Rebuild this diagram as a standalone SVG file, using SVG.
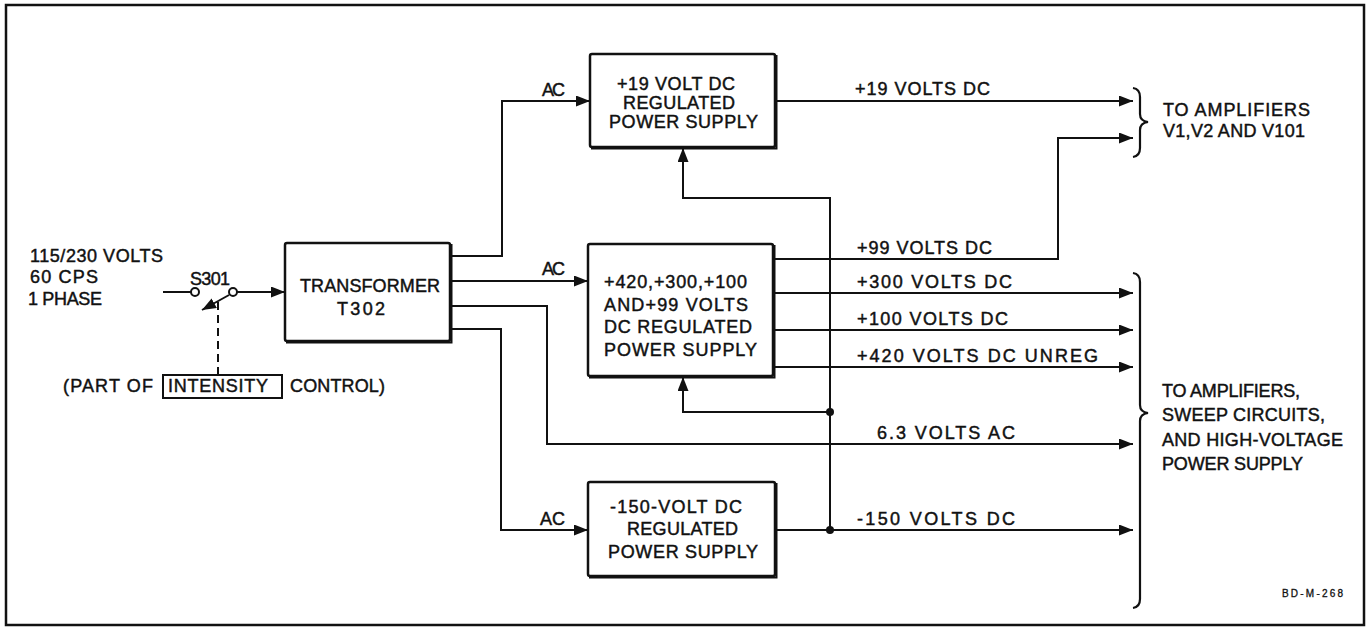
<svg xmlns="http://www.w3.org/2000/svg" width="1370" height="627" viewBox="0 0 1370 627">
<defs>
<style>
text{font-family:"Liberation Sans",Arial,sans-serif;font-size:18px;fill:#111;stroke:#111;stroke-width:0.45}
.box{fill:#fff;stroke:#111;stroke-width:2.5}
.sh{fill:none;stroke:#111;stroke-width:2}
.w{fill:none;stroke:#111;stroke-width:2}
.dash{fill:none;stroke:#111;stroke-width:2;stroke-dasharray:8 5}
.dot{fill:#111}
.br{fill:none;stroke:#111;stroke-width:2.2}
</style>
<marker id="ah" viewBox="0 0 14 11" refX="14" refY="5.5" markerWidth="14" markerHeight="11" markerUnits="userSpaceOnUse" orient="auto">
<path d="M0,0 L14,5.5 L0,11 Z" fill="#111"/>
</marker>
</defs>
<rect width="1370" height="627" fill="#fff"/>
<rect x="6" y="5" width="1358" height="620" fill="none" stroke="#111" stroke-width="2.5"/>

<g id="input">
<text x="30" y="262" textLength="133" lengthAdjust="spacing">115/230 VOLTS</text>
<text x="30" y="283" textLength="68" lengthAdjust="spacing">60 CPS</text>
<text x="28" y="305" textLength="74" lengthAdjust="spacing">1 PHASE</text>
</g>

<g id="switch">
<text x="190" y="285" textLength="40" lengthAdjust="spacing">S301</text>
<circle cx="195" cy="292" r="4" fill="#fff" stroke="#111" stroke-width="2"/>
<circle cx="233" cy="292" r="4" fill="#fff" stroke="#111" stroke-width="2"/>
<line x1="229" y1="295" x2="202" y2="310" class="w" marker-end="url(#ah)"/>
</g>

<g id="intensity">
<text x="63" y="392" textLength="90" lengthAdjust="spacing">(PART OF</text>
<rect x="163" y="375" width="119" height="23" fill="none" stroke="#111" stroke-width="2"/>
<text x="168" y="392" textLength="100" lengthAdjust="spacing">INTENSITY</text>
<text x="290" y="392" textLength="95" lengthAdjust="spacing">CONTROL)</text>
</g>

<g id="transformer">
<rect x="285" y="243" width="165" height="98" rx="2" class="box"/>
<path d="M286,342.5 H451.5 V244" class="sh"/>
<text x="300" y="292" textLength="140" lengthAdjust="spacing">TRANSFORMER</text>
<text x="337" y="315" textLength="48" lengthAdjust="spacing">T302</text>
</g>

<g id="ps19">
<rect x="590" y="54" width="185" height="93" rx="2" class="box"/>
<path d="M591,148.5 H776.5 V55" class="sh"/>
<text x="617" y="90" textLength="118" lengthAdjust="spacing">+19 VOLT DC</text>
<text x="623" y="109" textLength="112" lengthAdjust="spacing">REGULATED</text>
<text x="609" y="128" textLength="149" lengthAdjust="spacing">POWER  SUPPLY</text>
</g>

<g id="ps420">
<rect x="588" y="244" width="185" height="132" rx="2" class="box"/>
<path d="M589,377.5 H774.5 V245" class="sh"/>
<text x="604" y="288" textLength="143" lengthAdjust="spacing">+420,+300,+100</text>
<text x="604" y="311" textLength="144" lengthAdjust="spacing">AND+99 VOLTS</text>
<text x="604" y="333" textLength="148" lengthAdjust="spacing">DC REGULATED</text>
<text x="604" y="356" textLength="153" lengthAdjust="spacing">POWER  SUPPLY</text>
</g>

<g id="ps150">
<rect x="588" y="482" width="187" height="94" rx="2" class="box"/>
<path d="M589,577.5 H776.5 V483" class="sh"/>
<text x="610" y="513" textLength="132" lengthAdjust="spacing">-150-VOLT DC</text>
<text x="627" y="535" textLength="111" lengthAdjust="spacing">REGULATED</text>
<text x="608" y="558" textLength="150" lengthAdjust="spacing">POWER  SUPPLY</text>
</g>

<g id="connectors">
<line x1="163" y1="292" x2="191" y2="292" class="w"/>
<line x1="237" y1="292" x2="285" y2="292" class="w" marker-end="url(#ah)"/>
<line x1="218" y1="302" x2="218" y2="375" class="dash"/>
<polyline points="451,256 502,256 502,101 590,101" class="w" marker-end="url(#ah)"/>
<line x1="451" y1="281" x2="588" y2="281" class="w" marker-end="url(#ah)"/>
<polyline points="451,306 547,306 547,444 1133,444" class="w" marker-end="url(#ah)"/>
<polyline points="451,329 501,329 501,530 588,530" class="w" marker-end="url(#ah)"/>
<line x1="776" y1="101" x2="1133" y2="101" class="w" marker-end="url(#ah)"/>
<polyline points="774,259 1058,259 1058,138 1133,138" class="w" marker-end="url(#ah)"/>
<line x1="774" y1="293" x2="1133" y2="293" class="w" marker-end="url(#ah)"/>
<line x1="774" y1="330" x2="1133" y2="330" class="w" marker-end="url(#ah)"/>
<line x1="774" y1="367" x2="1133" y2="367" class="w" marker-end="url(#ah)"/>
<line x1="776" y1="530" x2="1133" y2="530" class="w" marker-end="url(#ah)"/>
<polyline points="830,530 830,198 683,198 683,148" class="w" marker-end="url(#ah)"/>
<polyline points="830,412 683,412 683,377" class="w" marker-end="url(#ah)"/>
<circle cx="830" cy="412" r="4" class="dot"/>
<circle cx="830" cy="530" r="4" class="dot"/>
<text x="542" y="96" textLength="23" lengthAdjust="spacing">AC</text>
<text x="542" y="275" textLength="23" lengthAdjust="spacing">AC</text>
<text x="540" y="525" textLength="25" lengthAdjust="spacing">AC</text>
<text x="855" y="95" textLength="135" lengthAdjust="spacing">+19 VOLTS DC</text>
<text x="857" y="254" textLength="135" lengthAdjust="spacing">+99 VOLTS DC</text>
<text x="857" y="288" textLength="155" lengthAdjust="spacing">+300 VOLTS  DC</text>
<text x="857" y="325" textLength="151" lengthAdjust="spacing">+100 VOLTS  DC</text>
<text x="857" y="362" textLength="241" lengthAdjust="spacing">+420 VOLTS  DC  UNREG</text>
<text x="877" y="439" textLength="138" lengthAdjust="spacing">6.3 VOLTS  AC</text>
<text x="857" y="525" textLength="158" lengthAdjust="spacing">-150 VOLTS  DC</text>
</g>

<g id="dest1">
<path d="M1133,88 Q1140,89 1140,97 V114 Q1140,121 1148,122 Q1140,123 1140,130 V148 Q1140,156 1133,157" class="br"/>
<text x="1163" y="116" textLength="147" lengthAdjust="spacing">TO  AMPLIFIERS</text>
<text x="1163" y="137" textLength="142" lengthAdjust="spacing">V1,V2 AND V101</text>
</g>

<g id="dest2">
<path d="M1133,273 Q1140,274 1140,282 V405 Q1140,412 1148,413 Q1140,414 1140,421 V599 Q1140,607 1133,608" class="br"/>
<text x="1162" y="397" textLength="138" lengthAdjust="spacing">TO AMPLIFIERS,</text>
<text x="1162" y="421" textLength="163" lengthAdjust="spacing">SWEEP CIRCUITS,</text>
<text x="1162" y="446" textLength="181" lengthAdjust="spacing">AND  HIGH-VOLTAGE</text>
<text x="1162" y="470" textLength="141" lengthAdjust="spacing">POWER  SUPPLY</text>
</g>

<text x="1282" y="597" style="font-size:10px;stroke-width:0.3" textLength="61" lengthAdjust="spacing">BD-M-268</text>
</svg>
